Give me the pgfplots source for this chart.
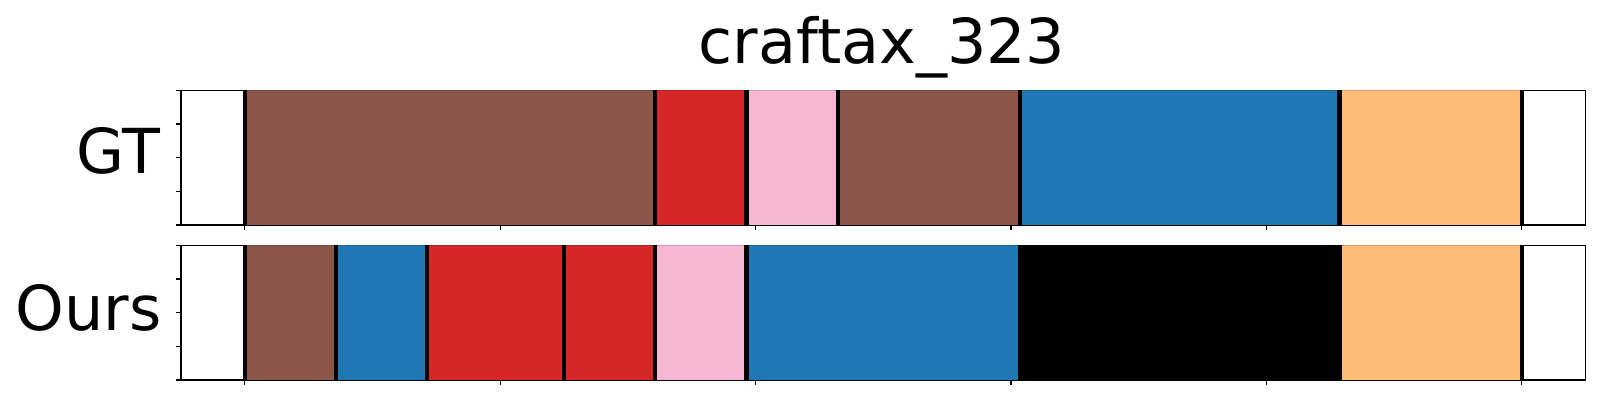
\documentclass[border=0pt]{standalone}
\usepackage{pgfplots}
\pgfplotsset{compat=1.18}
\usepackage{fontspec}
\setmainfont{DejaVu Sans}
\definecolor{cbrown}{HTML}{8C564B}
\definecolor{cred}{HTML}{D62728}
\definecolor{cpink}{HTML}{F7B6D2}
\definecolor{cblue}{HTML}{1F77B4}
\definecolor{corange}{HTML}{FFBB78}
\definecolor{cblack}{HTML}{000000}
\pgfplotsset{
  segaxis/.style={
    anchor=south west, scale only axis,
    width=702.35pt, height=67.35pt,
    xmin=-1.4, xmax=29.4, ymin=0, ymax=1,
    xtick={0,5.6,11.2,16.8,22.4,28},
    ytick={0,0.25,0.5,0.75,1},
    xticklabels={}, yticklabels={},
    tick align=outside, xtick pos=left, ytick pos=left,
    major tick length=2.45pt,
    axis line style={line width=0.6pt},
    every tick/.style={black, line width=0.6pt},
    no markers,
  },
  seg/.style={fill=#1, draw=#1!85!black, line width=0.4pt},
  sep/.style={ycomb, black, line width=2.1pt},
}
\begin{document}
\begin{tikzpicture}
\useasboundingbox (0,0) rectangle (800pt,200pt);
\node[anchor=base, inner sep=0pt, font=\fontsize{31}{37}\selectfont] at (441pt,168.35pt) {craftax\_323};
% GT
\begin{axis}[segaxis, at={(90.5pt,87.5pt)}]
\addplot[seg=cbrown]  coordinates {(0,1) (9,1)} \closedcycle;
\addplot[seg=cred]    coordinates {(9,1) (11,1)} \closedcycle;
\addplot[seg=cpink]   coordinates {(11,1) (13,1)} \closedcycle;
\addplot[seg=cbrown]  coordinates {(13,1) (17,1)} \closedcycle;
\addplot[seg=cblue]   coordinates {(17,1) (24,1)} \closedcycle;
\addplot[seg=corange] coordinates {(24,1) (28,1)} \closedcycle;
\addplot[sep] coordinates {(0,1) (9,1) (11,1) (13,1) (17,1) (24,1) (28,1)};
\end{axis}
% Ours
\begin{axis}[segaxis, at={(90.5pt,10pt)}]
\addplot[seg=cbrown]  coordinates {(0,1) (2,1)} \closedcycle;
\addplot[seg=cblue]   coordinates {(2,1) (4,1)} \closedcycle;
\addplot[seg=cred]    coordinates {(4,1) (7,1)} \closedcycle;
\addplot[seg=cred]    coordinates {(7,1) (9,1)} \closedcycle;
\addplot[seg=cpink]   coordinates {(9,1) (11,1)} \closedcycle;
\addplot[seg=cblue]   coordinates {(11,1) (17,1)} \closedcycle;
\addplot[seg=cblack]  coordinates {(17,1) (24,1)} \closedcycle;
\addplot[seg=corange] coordinates {(24,1) (28,1)} \closedcycle;
\addplot[sep] coordinates {(0,1) (2,1) (4,1) (7,1) (9,1) (11,1) (17,1) (24,1) (28,1)};
\end{axis}
\node[anchor=base east, inner sep=0pt, font=\fontsize{31}{37}\selectfont] at (80.5pt,113.2pt) {GT};
\node[anchor=base east, inner sep=0pt, font=\fontsize{31}{37}\selectfont] at (81pt,34.8pt) {Ours};
\end{tikzpicture}
\end{document}
